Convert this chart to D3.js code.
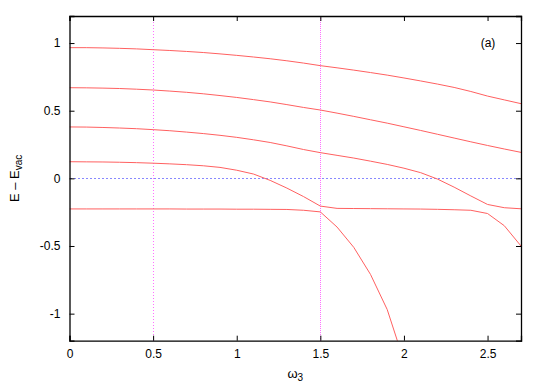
<!DOCTYPE html>
<html><head><meta charset="utf-8">
<script src="https://cdn.jsdelivr.net/npm/d3@7/dist/d3.min.js"></script>
<style>body{margin:0;background:#fff}svg{display:block}text{font-family:"Liberation Sans",Arial,sans-serif;}</style>
</head><body>
<script>
const omega = [0,0.1,0.2,0.3,0.4,0.5,0.6,0.7,0.8,0.9,1.0,1.1,1.2,1.3,1.4,1.5,1.6,1.7,1.8,1.9,2.0,2.1,2.2,2.3,2.4,2.5,2.6,2.7];
const level5 = [0.966,0.966,0.964,0.961,0.957,0.951,0.945,0.938,0.930,0.920,0.909,0.897,0.884,0.869,0.852,0.833,0.817,0.800,0.782,0.763,0.742,0.720,0.697,0.672,0.642,0.608,0.580,0.552];
const level4 = [0.670,0.669,0.667,0.664,0.659,0.653,0.645,0.636,0.625,0.612,0.598,0.582,0.565,0.545,0.524,0.505,0.482,0.458,0.433,0.408,0.381,0.354,0.326,0.298,0.270,0.243,0.217,0.192];
const level3 = [0.380,0.379,0.376,0.372,0.367,0.360,0.352,0.342,0.331,0.318,0.303,0.285,0.265,0.240,0.213,0.190,0.170,0.150,0.127,0.103,0.075,0.042,-0.005,-0.065,-0.130,-0.193,-0.217,-0.225];
const level2 = [0.123,0.122,0.121,0.119,0.116,0.112,0.107,0.101,0.093,0.081,0.060,0.032,-0.015,-0.072,-0.135,-0.205,-0.222,-0.223,-0.224,-0.225,-0.226,-0.227,-0.229,-0.232,-0.236,-0.260,-0.350,-0.500];
const level1 = [-0.226,-0.226,-0.226,-0.226,-0.226,-0.226,-0.226,-0.227,-0.227,-0.227,-0.228,-0.228,-0.229,-0.230,-0.236,-0.248,-0.360,-0.510,-0.710,-0.970,-1.350];
const levels = [level5, level4, level3, level2, level1];
const xTicks = [0,0.5,1,1.5,2,2.5];
const yTicks = [-1,-0.5,0,0.5,1];
const vLines = [0.5,1.5];
const hLines = [0];

const W=545,H=382;
const m={l:69.5,r:24,t:16,b:41.3};
const svg=d3.select("body").append("svg").attr("width",W).attr("height",H);
const x=d3.scaleLinear().domain([0,2.7]).range([m.l,W-m.r]);
const y=d3.scaleLinear().domain([-1.2,1.2]).range([H-m.b,m.t]);

svg.append("clipPath").attr("id","clip").append("rect")
  .attr("x",x(0)).attr("y",y(1.2)).attr("width",x(2.7)-x(0)).attr("height",y(-1.2)-y(1.2));

const g=svg.append("g").attr("clip-path","url(#clip)");
vLines.forEach((v,i)=>{
  g.append("line").attr("x1",x(v)).attr("x2",x(v)).attr("y1",y(1.2)).attr("y2",y(-1.2))
   .attr("stroke","#ff70ff").attr("stroke-width",1).attr("stroke-dasharray",i===0?"1,2":"1,1").attr("shape-rendering","crispEdges");
});
hLines.forEach(v=>{
  g.append("line").attr("x1",x(0)).attr("x2",x(2.7)).attr("y1",y(v)).attr("y2",y(v))
   .attr("stroke","#8888ff").attr("stroke-width",1).attr("stroke-dasharray","2,2").attr("shape-rendering","crispEdges");
});
const line=d3.line().x((d,i)=>x(omega[i])).y(d=>y(d));
levels.forEach(L=>{
  g.append("path").attr("d",line(L)).attr("fill","none").attr("stroke","#ff6060").attr("stroke-width",1);
});

const fmt=d=>String(d);
const ax=svg.append("g");
ax.append("g").attr("transform",`translate(0,${y(-1.2)})`).call(d3.axisBottom(x).tickValues(xTicks).tickSize(-5).tickPadding(9).tickFormat(fmt));
ax.append("g").attr("transform",`translate(0,${y(1.2)})`).call(d3.axisTop(x).tickValues(xTicks).tickSize(-5).tickFormat(""));
ax.append("g").attr("transform",`translate(${x(0)},0)`).call(d3.axisLeft(y).tickValues(yTicks).tickSize(-5).tickPadding(9).tickFormat(fmt));
ax.append("g").attr("transform",`translate(${x(2.7)},0)`).call(d3.axisRight(y).tickValues(yTicks).tickSize(-5).tickFormat(""));
ax.selectAll(".domain").attr("stroke","#000").attr("stroke-width",1.3);
ax.selectAll(".tick line").attr("stroke","#000");
ax.selectAll(".tick text").attr("font-size",12).attr("fill","#000").attr("font-family","Liberation Sans, Arial, sans-serif");

const xl=svg.append("text").attr("x",(x(0)+x(2.7))/2).attr("y",378).attr("text-anchor","middle").attr("font-size",13);
xl.append("tspan").text("ω");
xl.append("tspan").attr("font-size",10).attr("dy",3).text("3");

const yl=svg.append("text").attr("transform",`translate(19,${y(0)}) rotate(-90)`).attr("text-anchor","middle").attr("font-size",13);
yl.append("tspan").text("E – E");
yl.append("tspan").attr("font-size",10).attr("dy",3).text("vac");

svg.append("text").attr("x",488).attr("y",47).attr("text-anchor","middle").attr("font-size",12).text("(a)");
</script>
</body></html>
